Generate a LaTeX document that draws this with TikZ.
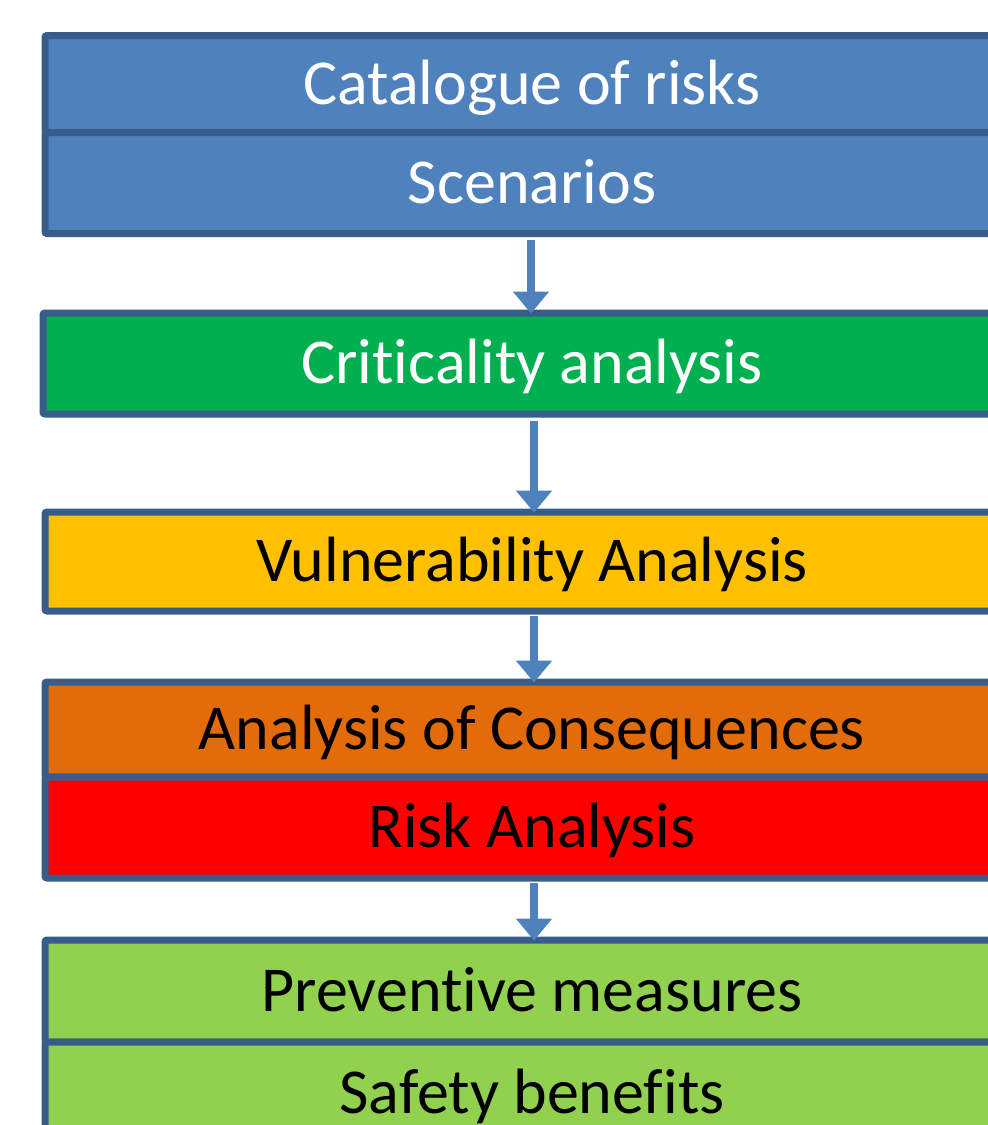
\documentclass[tikz,border=0pt]{standalone}
\usepackage{fontspec}
\setmainfont{Carlito}[Ligatures={NoCommon}]
\usetikzlibrary{arrows.meta}
\definecolor{bfill}{HTML}{4F81BD}
\definecolor{bline}{HTML}{385D8A}
\definecolor{cgreen}{HTML}{00B050}
\definecolor{cyellow}{HTML}{FFC000}
\definecolor{corange}{HTML}{E36C0A}
\definecolor{cred}{HTML}{FF0000}
\definecolor{clgreen}{HTML}{92D050}
\tikzset{
  rowbox/.style={draw=bline, line width=7pt, rounded corners=2pt, rectangle,
    minimum width=974pt, minimum height=#1, inner sep=0pt,
    text height=40pt, text depth=0pt,
    font=\fontsize{64}{70}\selectfont},
  rowbox/.default=98pt,
  arr/.style={draw=bfill, line width=8pt,
    -{Triangle[width=35pt,length=22pt]}, shorten >=-4pt}
}
\begin{document}
\begin{tikzpicture}[x=1pt,y=-1pt]
\path[use as bounding box, clip] (0,0) rectangle (988,1125);
\fill[white] (0,0) rectangle (988,1125);
% box 1
\node[rowbox=97pt, fill=bfill, text=white] (cat) at (532,84) {Catalogue of risks};
\node[rowbox=101pt, fill=bfill, text=white] (scen) at (532,183) {Scenarios};
% box 2
\node[rowbox=101pt, fill=cgreen, text=white, minimum width=978pt] (crit) at (532,363.5) {Criticality analysis};
% box 3
\node[rowbox=99pt, fill=cyellow, text=black] (vuln) at (532,561.5) {Vulnerability Analysis};
% box 4
\node[rowbox=95pt, fill=corange, text=black] (cons) at (532,729.5) {Analysis of Consequences};
\node[rowbox=101pt, fill=cred, text=black] (risk) at (532,827.5) {Risk Analysis};
% box 5
\node[rowbox=102pt, fill=clgreen, text=black] (prev) at (532,991) {Preventive measures};
\node[rowbox=102pt, fill=clgreen, text=black] (safe) at (532,1093) {Safety benefits};
% arrows
\draw[arr] ([xshift=-1pt,yshift=-3pt]scen.south) -- ([xshift=-1pt]crit.north);
\draw[arr] ([xshift=2pt,yshift=-3pt]crit.south) -- ([xshift=2pt]vuln.north);
\draw[arr] ([xshift=2pt,yshift=-1pt]vuln.south) -- ([xshift=2pt]cons.north);
\draw[arr] ([xshift=2pt,yshift=-1pt]risk.south) -- ([xshift=2pt]prev.north);
\end{tikzpicture}
\end{document}
